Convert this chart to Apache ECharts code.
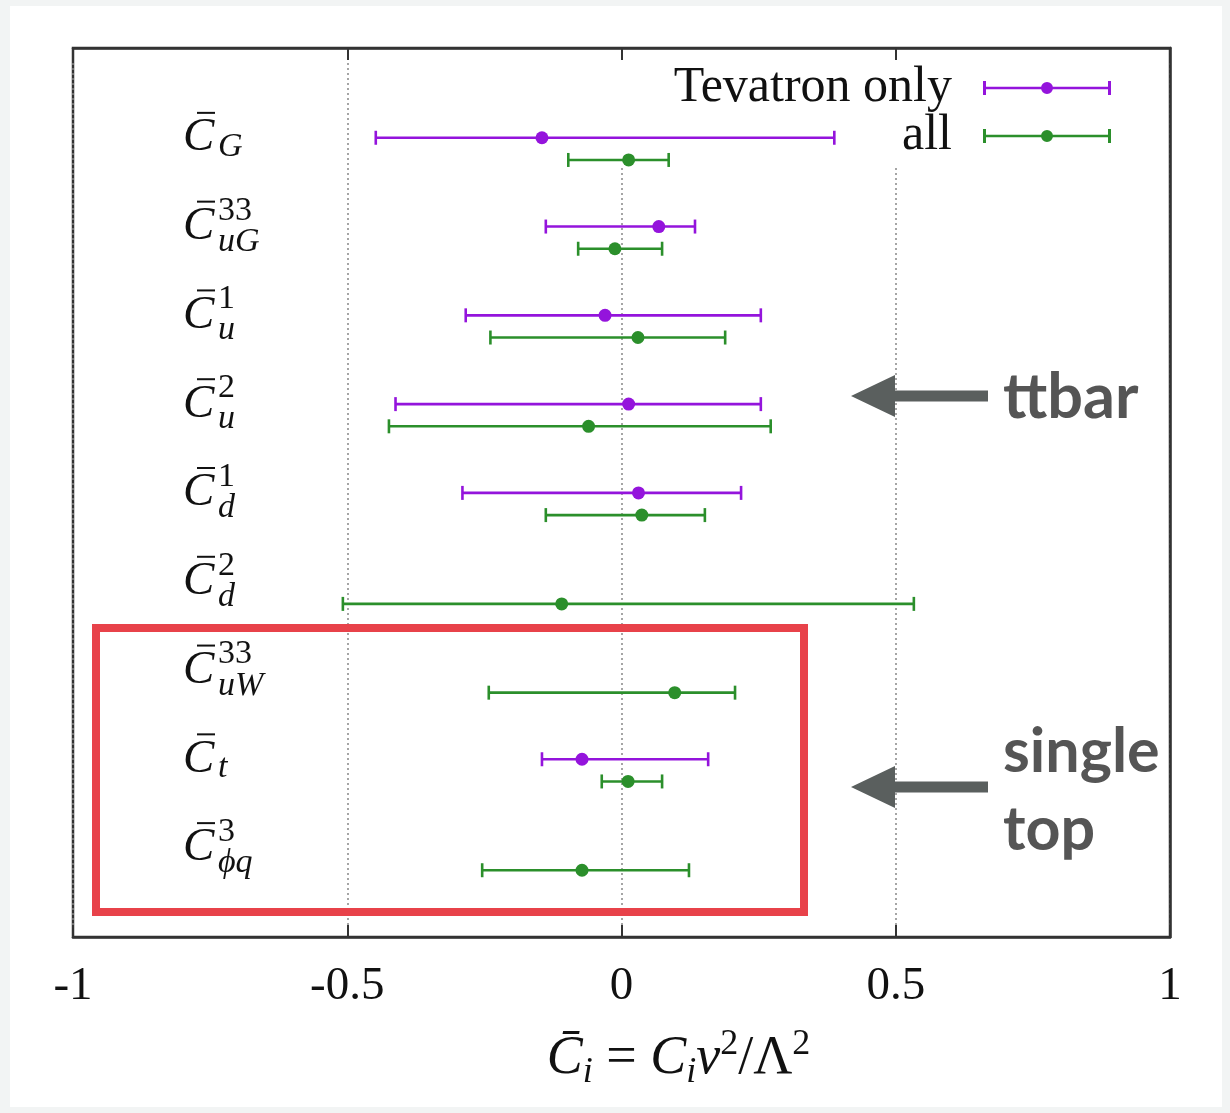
<!DOCTYPE html>
<html>
<head>
<meta charset="utf-8">
<script src="https://cdn.jsdelivr.net/npm/echarts@6/dist/echarts.min.js"></script>
<style>
html, body { margin: 0; padding: 0; background: #f2f4f4; }
#paper { position: absolute; left: 10px; top: 6px; width: 1212px; height: 1101px; background: #fff; }
#chart { position: absolute; left: 0; top: 0; width: 1230px; height: 1113px; }
</style>
</head>
<body>
<div id="paper"></div>
<div id="chart"></div>
<script>
// coefficient rows, top to bottom
const coeffSub = ['G', 'uG', 'u', 'u', 'd', 'd', 'uW', 't', 'ϕq']
const coeffSup = ['', '33', '1', '2', '1', '2', '33', '', '3']

// Tevatron only fit (null = not constrained)
const tevCentral = [-0.145, 0.068, -0.030, 0.013, 0.031, null, null, -0.072, null]
const tevLow = [-0.448, -0.138, -0.284, -0.412, -0.290, null, null, -0.145, null]
const tevHigh = [0.388, 0.134, 0.254, 0.254, 0.218, null, null, 0.158, null]

// all data fit
const allCentral = [0.013, -0.012, 0.030, -0.060, 0.037, -0.109, 0.097, 0.012, -0.072]
const allLow = [-0.097, -0.079, -0.239, -0.424, -0.138, -0.508, -0.242, -0.036, -0.254]
const allHigh = [0.086, 0.074, 0.189, 0.272, 0.152, 0.533, 0.207, 0.074, 0.123]

const xTicks = [-1, -0.5, 0, 0.5, 1]

const purple = '#9414dc'
const green = '#2b8f2b'
const serif = '"Liberation Serif", "DejaVu Serif", serif'
const gill = 'bold 61px Lato, "Open Sans", sans-serif'

const toRows = (low, high, mid) => {
    const rows = []
    mid.forEach((m, k) => {
        if (m !== null) rows.push([k, low[k], high[k], m])
    })
    return rows
}

// error bar with caps and a dot
const makeBar = (color, shift) => (params, api) => {
    const y = api.value(0) + shift
    const lo = api.coord([api.value(1), y])
    const hi = api.coord([api.value(2), y])
    const mid = api.coord([api.value(3), y])
    const st = { stroke: color, lineWidth: 2.6 }
    return {
        type: 'group',
        children: [
            { type: 'line', shape: { x1: lo[0], y1: lo[1], x2: hi[0], y2: hi[1] }, style: st },
            { type: 'line', shape: { x1: lo[0], y1: lo[1] - 7, x2: lo[0], y2: lo[1] + 7 }, style: st },
            { type: 'line', shape: { x1: hi[0], y1: hi[1] - 7, x2: hi[0], y2: hi[1] + 7 }, style: st },
            { type: 'circle', shape: { cx: mid[0], cy: mid[1], r: 6.5 }, style: { fill: color } }
        ]
    }
}

// C-bar labels with sub/superscripts
const renderLabel = (params, api) => {
    const p = api.coord([api.value(0), api.value(1)])
    const x = p[0] + 110
    const y = p[1]
    const i = params.dataIndex
    const sup = coeffSup[i]
    const kids = [
        { type: 'text', style: { text: 'C', x: x, y: y - 11, font: 'italic 47px ' + serif, fill: '#111', align: 'left', verticalAlign: 'middle' } },
        { type: 'line', shape: { x1: x + 14, y1: y - 36, x2: x + 32, y2: y - 36 }, style: { stroke: '#111', lineWidth: 2 } },
        { type: 'text', style: { text: coeffSub[i], x: x + 35, y: y + (sup ? 4 : -2), font: 'italic 34px ' + serif, fill: '#111', align: 'left', verticalAlign: 'middle' } }
    ]
    if (sup) {
        kids.push({ type: 'text', style: { text: sup, x: x + 35, y: y - 27, font: '34px ' + serif, fill: '#111', align: 'left', verticalAlign: 'middle' } })
    }
    return { type: 'group', children: kids }
}

const legendIcon = 'path://M0 0H3V14H0Z M125 0H128V14H125Z M0 5.8H128V8.2H0Z M58 7A6 6 0 1 1 70 7A6 6 0 1 1 58 7Z'

const arrow = (tx, ty) => [[tx, ty], [tx + 44, ty - 21], [tx + 44, ty - 5.5], [tx + 137, ty - 5.5], [tx + 137, ty + 5.5], [tx + 44, ty + 5.5], [tx + 44, ty + 21]]

const chart = echarts.init(document.getElementById('chart'))

const option = {
    animation: false,
    grid: { left: 73, right: 60, top: 48, bottom: 176, show: true, borderColor: '#333', borderWidth: 2.5 },
    legend: {
        right: 63,
        top: 50,
        orient: 'vertical',
        align: 'right',
        itemWidth: 128,
        itemHeight: 14,
        itemGap: -2,
        padding: [13, 56, 7, 80],
        backgroundColor: '#fff',
        textStyle: { fontFamily: serif, fontSize: 50, color: '#111', padding: [0, 26, 0, 0] },
        data: [
            { name: 'Tevatron only', icon: legendIcon },
            { name: 'all', icon: legendIcon }
        ]
    },
    xAxis: [
        {
            type: 'value',
            min: xTicks[0],
            max: xTicks[xTicks.length - 1],
            interval: 0.5,
            position: 'bottom',
            axisLine: { show: true, onZero: false, lineStyle: { color: '#333', width: 2.5 } },
            axisTick: { show: true, inside: true, length: 12, lineStyle: { color: '#333', width: 2 } },
            axisLabel: { fontFamily: serif, fontSize: 47, color: '#111', margin: 26, showMinLabel: true, showMaxLabel: true },
            splitLine: { show: true, lineStyle: { type: [2, 3], color: '#888', width: 1.5 } },
            name: '{c|C̄}{s|i}{e| = }{c|C}{s|i}{c|v}{p|2}{e|/Λ}{p|2}',
            nameLocation: 'middle',
            nameGap: 90,
            nameTextStyle: {
                padding: [0, 0, 0, 114],
                rich: {
                    c: { fontFamily: serif, fontStyle: 'italic', fontSize: 54, lineHeight: 64, color: '#111' },
                    e: { fontFamily: serif, fontSize: 54, lineHeight: 64, color: '#111' },
                    s: { fontFamily: serif, fontStyle: 'italic', fontSize: 36, lineHeight: 34, verticalAlign: 'bottom', color: '#111' },
                    p: { fontFamily: serif, fontSize: 36, lineHeight: 34, verticalAlign: 'top', color: '#111' }
                }
            }
        },
        {
            type: 'value',
            z: 6,
            min: xTicks[0],
            max: xTicks[xTicks.length - 1],
            interval: 0.5,
            position: 'top',
            axisLine: { show: true, onZero: false, lineStyle: { color: '#333', width: 2.5 } },
            axisTick: { show: true, inside: true, length: 12, lineStyle: { color: '#333', width: 2 } },
            axisLabel: { show: false },
            splitLine: { show: false }
        }
    ],
    yAxis: [
        {
            type: 'value',
            inverse: true,
            min: -1.136,
            max: 8.877,
            axisLine: { show: false },
            axisTick: { show: false },
            axisLabel: { show: false },
            splitLine: { show: false }
        },
        {
            type: 'value',
            z: 6,
            position: 'right',
            inverse: true,
            min: -1.136,
            max: 8.877,
            axisLine: { show: true, onZero: false, lineStyle: { color: '#333', width: 2.5 } },
            axisTick: { show: false },
            axisLabel: { show: false },
            splitLine: { show: false }
        }
    ],
    series: [
        {
            name: 'labels',
            type: 'custom',
            z: 10,
            renderItem: renderLabel,
            encode: { x: 0, y: 1 },
            data: coeffSub.map((_, k) => [-1, k])
        },
        {
            name: 'Tevatron only',
            type: 'custom',
            z: 10,
            itemStyle: { color: purple },
            renderItem: makeBar(purple, -0.125),
            encode: { x: [1, 2, 3], y: 0 },
            data: toRows(tevLow, tevHigh, tevCentral)
        },
        {
            name: 'all',
            type: 'custom',
            z: 10,
            itemStyle: { color: green },
            renderItem: makeBar(green, 0.125),
            encode: { x: [1, 2, 3], y: 0 },
            data: toRows(allLow, allHigh, allCentral)
        }
    ],
    graphic: [
        { type: 'rect', z: 100, shape: { x: 96, y: 628, width: 708, height: 284 }, style: { fill: 'none', stroke: '#e8424a', lineWidth: 8 } },
        { type: 'polygon', z: 100, shape: { points: arrow(851, 396) }, style: { fill: '#5a5f5e' } },
        { type: 'polygon', z: 100, shape: { points: arrow(851, 787) }, style: { fill: '#5a5f5e' } },
        { type: 'text', z: 100, x: 1003, y: 398, style: { text: 'ttbar', font: 'bold 63px Lato, "Open Sans", sans-serif', fill: '#555', verticalAlign: 'middle' } },
        { type: 'text', z: 100, x: 1003, y: 752, style: { text: 'single', font: gill, fill: '#555', verticalAlign: 'middle' } },
        { type: 'text', z: 100, x: 1003, y: 830, style: { text: 'top', font: gill, fill: '#555', verticalAlign: 'middle' } }
    ]
}

chart.setOption(option)
</script>
</body>
</html>
